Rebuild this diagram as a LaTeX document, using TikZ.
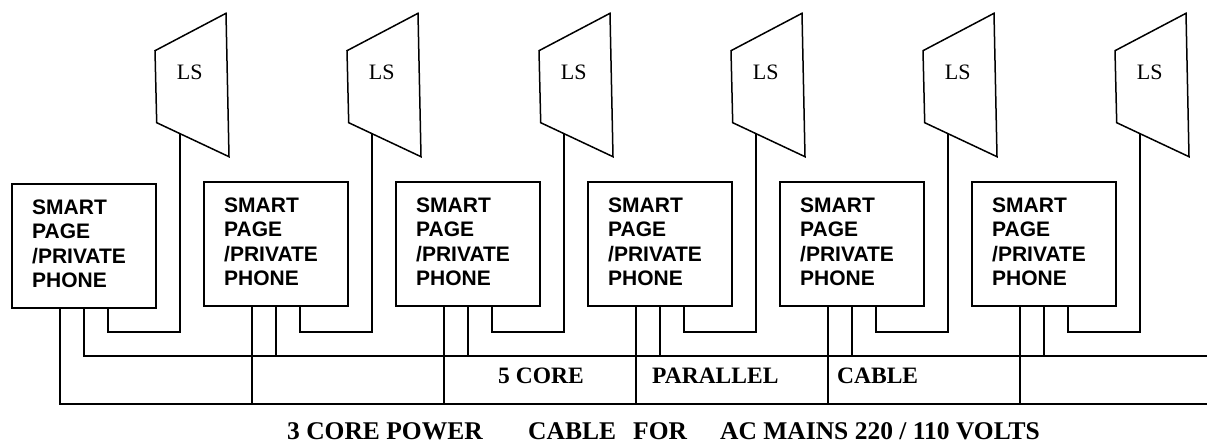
\documentclass[tikz,border=0pt]{standalone}
\usepackage{fontspec}
\setmainfont{Liberation Serif}
\setsansfont{Liberation Sans}
\begin{document}
\begin{tikzpicture}[x=1pt,y=-1pt,
  pbox/.style={draw, line width=1.8pt, minimum width=144pt, minimum height=124pt, inner sep=0pt, outer sep=0pt, anchor=north west},
  ptext/.style={font=\sffamily\bfseries\fontsize{21}{24.4}\selectfont, align=left, inner sep=0pt, anchor=north west},
  wire/.style={line width=1.5pt},
  spk/.style={draw, line width=1.5pt, line join=miter},
  lslabel/.style={font=\fontsize{22}{26}\selectfont, inner sep=0pt, anchor=base west},
  cablelbl/.style={font=\bfseries\fontsize{23.5}{28}\selectfont, inner sep=0pt, anchor=base west},
  mainlbl/.style={font=\bfseries\fontsize{25.5}{30}\selectfont, inner sep=0pt, anchor=base west}]
\useasboundingbox (0,0) rectangle (1207,444);
\coordinate (pwrE) at (1207,404);
\coordinate (coreE) at (1207,356);
\foreach \i/\t in {1/184,2/182,3/182,4/182,5/182,6/182} {
  \pgfmathsetmacro\dx{192*(\i-1)}
  \node[pbox] (b\i) at (12+\dx,\t) {};
  \node[ptext] (t\i) at ([xshift=20pt,yshift=-15.5pt]b\i.north west) {SMART\\PAGE\\/PRIVATE\\PHONE};
  \draw[spk] (155+\dx,50.7) -- (226+\dx,13.3) -- (229+\dx,156.7) -- (156.7+\dx,122.7) -- cycle;
  \node[lslabel] (ls\i) at (176.7+\dx,80) {LS};
  \coordinate (sw\i) at (180+\dx,133.7);
  \coordinate (sk\i) at (180+\dx,332);
  \draw[wire] ([xshift=96pt]b\i.south west) |- (sk\i) -- (sw\i);
}
\draw[wire] ([xshift=48pt]b1.south west) |- (pwrE);
\draw[wire] ([xshift=72pt]b1.south west) |- (coreE);
\foreach \i in {2,...,6} {
  \draw[wire] ([xshift=48pt]b\i.south west) -- ([xshift=48pt]b\i.south west |- pwrE);
  \draw[wire] ([xshift=72pt]b\i.south west) -- ([xshift=72pt]b\i.south west |- coreE);
}
\node[cablelbl] (c5) at (498,383) {5 CORE};
\node[cablelbl] (par) at (652,383) {PARALLEL};
\node[cablelbl] (cab) at (837,383) {CABLE};
\node[mainlbl] (m1) at (287,439) {3 CORE POWER};
\node[mainlbl] (m2) at (528,439) {CABLE};
\node[mainlbl] (m3) at (633,439) {FOR};
\node[mainlbl] (m4) at (720,439) {AC MAINS 220 / 110 VOLTS};
\end{tikzpicture}
\end{document}
